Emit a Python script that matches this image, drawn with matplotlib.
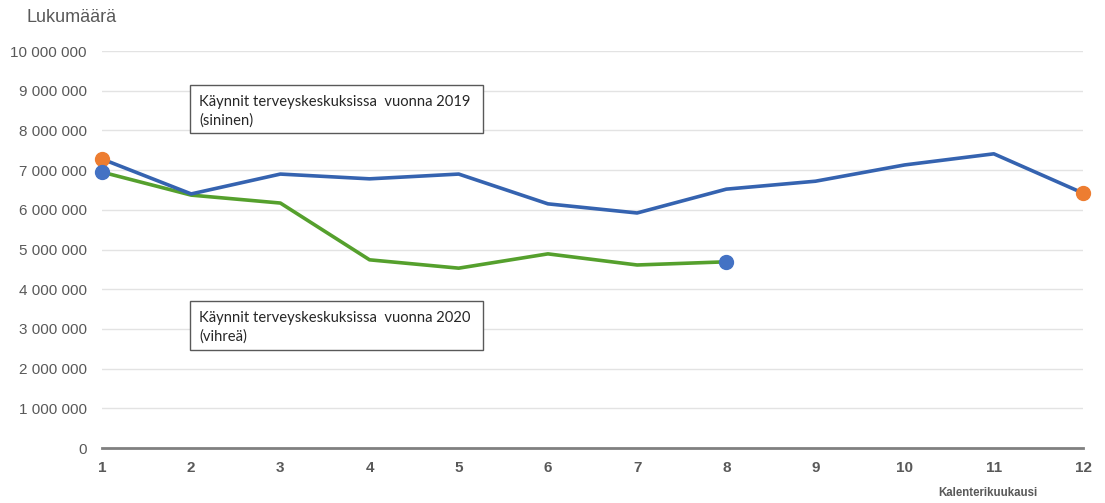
import matplotlib
matplotlib.use("Agg")
import matplotlib.pyplot as plt
from matplotlib.patches import Rectangle
from matplotlib.ticker import FuncFormatter

months = list(range(1, 13))
visits_2019 = [7.28e6, 6.40e6, 6.90e6, 6.78e6, 6.90e6, 6.15e6, 5.92e6, 6.52e6, 6.72e6, 7.13e6, 7.41e6, 6.42e6]
months_2020 = list(range(1, 9))
visits_2020 = [6.95e6, 6.37e6, 6.17e6, 4.74e6, 4.53e6, 4.89e6, 4.61e6, 4.69e6]
y_ticks = [0, 1e6, 2e6, 3e6, 4e6, 5e6, 6e6, 7e6, 8e6, 9e6, 10e6]
label_2019 = "Käynnit terveyskeskuksissa  vuonna 2019\n(sininen)"
label_2020 = "Käynnit terveyskeskuksissa  vuonna 2020\n(vihreä)"

W, H = 1105, 503
fig = plt.figure(figsize=(W / 100, H / 100), dpi=100)
ax = fig.add_axes([102 / W, 1 - 448 / H, (1083 - 102) / W, (448 - 51) / H])

blue = "#3563B0"
green = "#55A02D"
orange = "#ED7D31"
mblue = "#4472C4"

ax.plot(months_2020, visits_2020, color=green, lw=2.6, zorder=3, clip_on=False)
ax.plot(months, visits_2019, color=blue, lw=2.6, zorder=4, clip_on=False)
ax.plot([months[0], months[-1]], [visits_2019[0], visits_2019[-1]], ls="none", marker="o",
        ms=10, color=orange, zorder=5, clip_on=False)
ax.plot([months_2020[0], months_2020[-1]], [visits_2020[0], visits_2020[-1]], ls="none", marker="o",
        ms=10, color=mblue, zorder=6, clip_on=False)

ax.set_xlim(1, 12)
ax.set_ylim(0, 10e6)
ax.set_yticks(y_ticks)
ax.set_xticks(months)
ax.yaxis.set_major_formatter(FuncFormatter(lambda v, p: f"{int(v):,}".replace(",", " ")))
ax.grid(axis="y", color="#e3e3e3", lw=1)
ax.set_axisbelow(True)
for s in ["top", "right", "left"]:
    ax.spines[s].set_visible(False)
ax.spines["bottom"].set_color("#808080")
ax.spines["bottom"].set_linewidth(2)
ax.spines["bottom"].set_zorder(2)
ax.tick_params(axis="y", length=0, pad=11, labelsize=11, labelcolor="#595959")
ax.tick_params(axis="x", length=0, pad=9, labelsize=11, labelcolor="#595959")
for lab in ax.get_yticklabels():
    lab.set_fontfamily("Liberation Sans")
for lab in ax.get_xticklabels():
    lab.set_fontfamily("Liberation Sans")
    lab.set_fontweight("bold")

fig.text(27 / W, 1 - 18 / H, "Lukumäärä", fontsize=13, color="#595959",
         family="Liberation Sans", va="center", ha="left")
fig.text(938 / W, 1 - 493 / H, "Kalenterikuukausi", fontsize=8.3, color="#595959",
         family="Liberation Sans", fontweight="bold", va="center", ha="left")

for (x0, y0, x1, y1), txt in [((190, 85, 483, 133), label_2019), ((190, 301, 483, 350), label_2020)]:
    fig.patches.append(Rectangle((x0 / W, 1 - y1 / H), (x1 - x0) / W, (y1 - y0) / H,
                                 transform=fig.transFigure, fill=True, facecolor="white",
                                 edgecolor="#595959", lw=1, zorder=10))
    fig.text((x0 + 9) / W, 1 - (y0 + 26) / H, txt, fontsize=10.6, color="#262626",
             family="Lato", va="center", ha="left", linespacing=1.4, zorder=11)

fig.savefig("out.png", dpi=100)
